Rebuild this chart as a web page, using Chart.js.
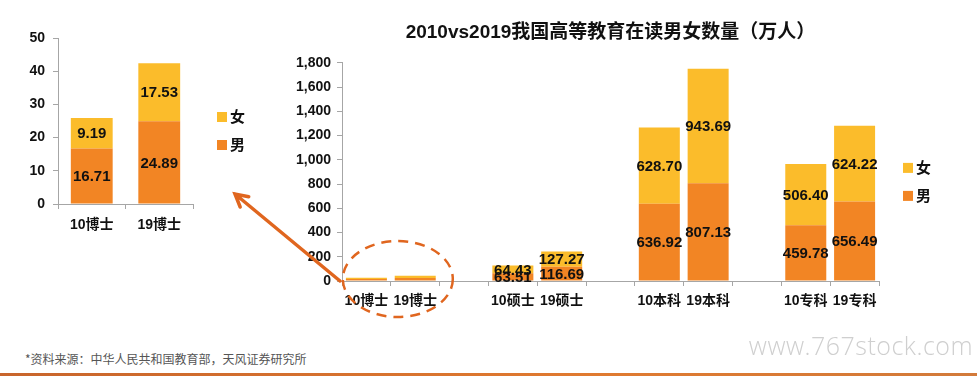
<!DOCTYPE html>
<html>
<head>
<meta charset="utf-8">
<script src="https://cdn.jsdelivr.net/npm/chart.js@4.4.1/dist/chart.umd.min.js"></script>
<style>
  html, body { margin: 0; padding: 0; background: #fff; }
  body { width: 977px; height: 376px; position: relative; overflow: hidden;
         font-family: "Liberation Sans", "Noto Sans CJK SC", sans-serif; }
  #mainWrap { position: absolute; left: 0; top: 0; width: 977px; height: 330px; }
  #insetWrap { position: absolute; left: 0; top: 0; width: 270px; height: 240px; }
  #source { position: absolute; left: 25px; top: 350px; font-size: 12px; color: #555;
            font-family: "Noto Sans CJK SC", sans-serif; }
  #mark { position: absolute; right: 4px; top: 328px; font-size: 25px; color: #cfcfcf;
          font-family: "Open Sans", "DejaVu Sans", sans-serif; font-weight: 300; letter-spacing: 0.5px; }
  #bottomBar { position: absolute; left: 0; bottom: 0; width: 977px; height: 3px;
               background: linear-gradient(to right, #c8652c, #e07a30 60%, #d27a3a); }
</style>
</head>
<body>
<div id="mainWrap"><canvas id="mainChart"></canvas></div>
<div id="insetWrap"><canvas id="insetChart"></canvas></div>
<div id="source">*资料来源：中华人民共和国教育部，天风证券研究所</div>
<div id="mark">www.767stock.com</div>
<div id="bottomBar"></div>

<script>
/* ---- data ---- */
// main chart: empty slots are the gaps between the education levels
const mainLabels = ['10博士', '19博士', '', '10硕士', '19硕士', '', '10本科', '19本科', '', '10专科', '19专科'];
const mainMale   = [16.71, 24.89, null, 63.51, 116.69, null, 636.92, 807.13, null, 459.78, 656.49];
const mainFemale = [9.19, 17.53, null, 64.43, 127.27, null, 628.70, 943.69, null, 506.40, 624.22];

// zoomed inset for 博士
const insetLabels = ['10博士', '19博士'];
const insetMale   = [16.71, 24.89];
const insetFemale = [9.19, 17.53];

const mainTitle = '2010vs2019我国高等教育在读男女数量（万人）';

const COLOR_FEMALE = '#FBBC2B';
const COLOR_MALE = '#F28524';
const COLOR_NOTE = '#E0661F';
const FONT_FAMILY = '"Liberation Sans", "Noto Sans CJK SC", sans-serif';
const tickFont = { family: FONT_FAMILY, size: 14, weight: 'bold' };

// draws the value in the middle of every bar segment
const segmentLabels = {
    id: 'segmentLabels',
    afterDatasetsDraw(chart, args, opts) {
        const ctx = chart.ctx;
        ctx.save();
        ctx.font = 'bold 15px ' + FONT_FAMILY;
        ctx.fillStyle = '#111';
        ctx.textAlign = 'center';
        ctx.textBaseline = 'middle';
        chart.data.datasets.forEach((ds, i) => {
            const meta = chart.getDatasetMeta(i);
            if (meta.hidden) return;
            meta.data.forEach((bar, j) => {
                const v = ds.data[j];
                if (v == null || v < (opts.minValue || 0)) return;
                ctx.fillText(v.toFixed(2), bar.x, (bar.y + bar.base) / 2 + 1);
            });
        });
        ctx.restore();
    }
};

// legend to the right of the plot: 女 on top, 男 below
const sideLegend = {
    id: 'sideLegend',
    afterDraw(chart) {
        const ctx = chart.ctx;
        const area = chart.chartArea;
        const mid = (area.top + area.bottom) / 2;
        const x = area.right + 24;
        const items = chart.data.datasets.slice().reverse();
        ctx.save();
        ctx.font = 'bold 15px ' + FONT_FAMILY;
        ctx.textBaseline = 'middle';
        items.forEach((ds, k) => {
            const y = mid - 4 + k * 28;
            ctx.fillStyle = ds.backgroundColor;
            ctx.fillRect(x, y - 5, 10, 10);
            ctx.fillStyle = '#111';
            ctx.fillText(ds.label, x + 13, y + 1);
        });
        ctx.restore();
    }
};

// dashed ring round the 博士 bars and the arrow pointing at the inset
const zoomNote = {
    id: 'zoomNote',
    afterDraw(chart) {
        const ctx = chart.ctx;
        const x = chart.scales.x, y = chart.scales.y;
        const cx = (x.getPixelForValue(0) + x.getPixelForValue(1)) / 2 + 7;
        const cy = y.getPixelForValue(0) - 2;
        ctx.save();
        ctx.strokeStyle = COLOR_NOTE;
        ctx.lineWidth = 2.5;
        ctx.setLineDash([10, 7]);
        ctx.beginPath();
        ctx.ellipse(cx, cy, 55, 38, 0, 0, Math.PI * 2);
        ctx.stroke();

        ctx.setLineDash([]);
        ctx.lineWidth = 3.5;
        ctx.lineCap = 'round';
        const x0 = chart.chartArea.left - 2, y0 = y.getPixelForValue(0);
        const x1 = 235, y1 = 194;
        ctx.beginPath();
        ctx.moveTo(x0, y0);
        ctx.lineTo(x1, y1);
        const ang = Math.atan2(y0 - y1, x0 - x1);
        ctx.moveTo(x1 + 14 * Math.cos(ang - 0.5), y1 + 14 * Math.sin(ang - 0.5));
        ctx.lineTo(x1, y1);
        ctx.lineTo(x1 + 14 * Math.cos(ang + 0.5), y1 + 14 * Math.sin(ang + 0.5));
        ctx.stroke();
        ctx.restore();
    }
};

function axisStyle() {
    return {
        color: '#a6a6a6',
        drawOnChartArea: false,
        drawTicks: true,
        tickLength: 5
    };
}

/* ---- main chart ---- */
new Chart(document.getElementById('mainChart'), {
    type: 'bar',
    data: {
        labels: mainLabels,
        datasets: [
            { label: '男', data: mainMale, backgroundColor: COLOR_MALE },
            { label: '女', data: mainFemale, backgroundColor: COLOR_FEMALE }
        ]
    },
    options: {
        responsive: true,
        maintainAspectRatio: false,
        animation: false,
        categoryPercentage: 1,
        barPercentage: 0.84,
        layout: { padding: { left: 280, right: 98, bottom: 19, top: 0 } },
        plugins: {
            title: {
                display: true,
                text: mainTitle,
                fullSize: false,
                color: '#111',
                font: { family: FONT_FAMILY, size: 19, weight: 'bold' },
                padding: { top: 21, bottom: 19 }
            },
            legend: { display: false },
            tooltip: { enabled: false },
            segmentLabels: { minValue: 50 }
        },
        scales: {
            x: {
                stacked: true,
                grid: axisStyle(),
                border: { color: '#a6a6a6', width: 1 },
                ticks: { color: '#111', font: tickFont, maxRotation: 0, autoSkip: false, padding: 7 },
                afterFit: (s) => { s.height = 30; }
            },
            y: {
                stacked: true,
                min: 0,
                max: 1800,
                grid: axisStyle(),
                border: { color: '#a6a6a6', width: 1 },
                ticks: { stepSize: 200, color: '#111', font: tickFont, padding: 6 },
                afterFit: (s) => { s.width = 62; }
            }
        }
    },
    plugins: [segmentLabels, sideLegend, zoomNote]
});

/* ---- inset chart ---- */
new Chart(document.getElementById('insetChart'), {
    type: 'bar',
    data: {
        labels: insetLabels,
        datasets: [
            { label: '男', data: insetMale, backgroundColor: COLOR_MALE },
            { label: '女', data: insetFemale, backgroundColor: COLOR_FEMALE }
        ]
    },
    options: {
        responsive: true,
        maintainAspectRatio: false,
        animation: false,
        categoryPercentage: 1,
        barPercentage: 0.62,
        layout: { padding: { left: 10, right: 77, top: 38, bottom: 6 } },
        plugins: {
            legend: { display: false },
            tooltip: { enabled: false },
            segmentLabels: { minValue: 0 }
        },
        scales: {
            x: {
                stacked: true,
                grid: axisStyle(),
                border: { color: '#a6a6a6', width: 1 },
                ticks: { color: '#111', font: tickFont, maxRotation: 0, padding: 8 },
                afterFit: (s) => { s.height = 30; }
            },
            y: {
                stacked: true,
                min: 0,
                max: 50,
                grid: axisStyle(),
                border: { color: '#a6a6a6', width: 1 },
                ticks: { stepSize: 10, color: '#111', font: tickFont, padding: 8 },
                afterFit: (s) => { s.width = 48; }
            }
        }
    },
    plugins: [segmentLabels, sideLegend]
});
</script>
</body>
</html>
